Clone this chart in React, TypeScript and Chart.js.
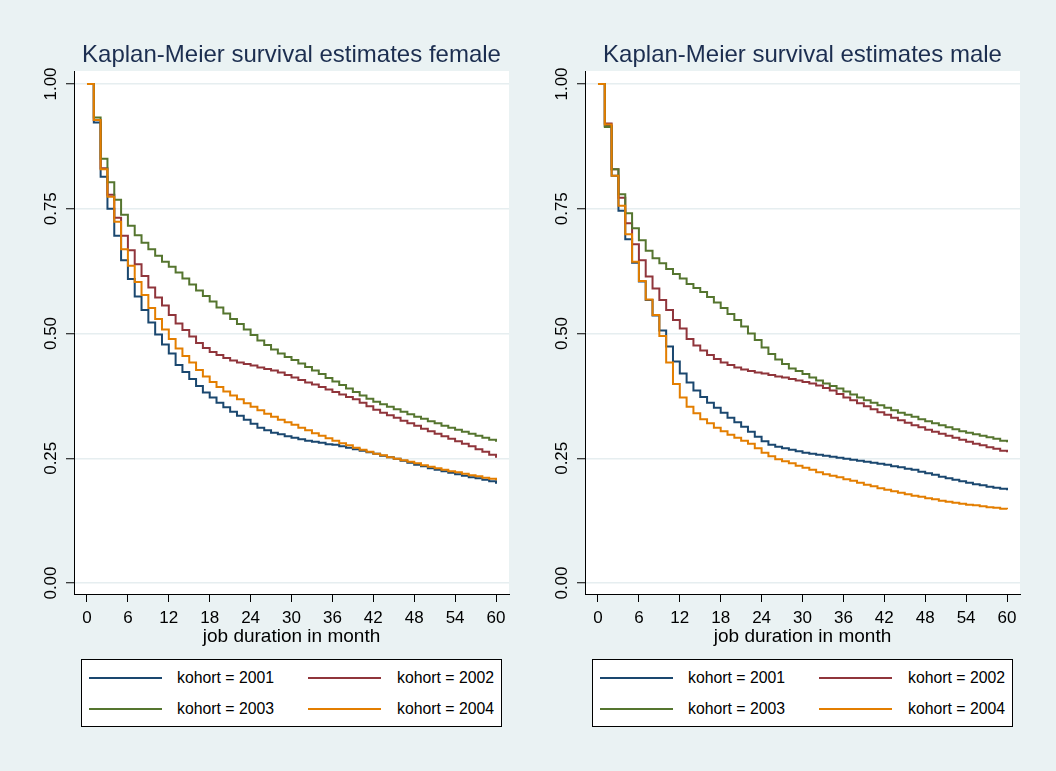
import React, { useEffect, useRef } from "react";
import { Chart, registerables } from "chart.js";

Chart.register(...registerables);

const FONT = "'Liberation Sans', Arial, Helvetica, sans-serif";

// ---------- data ----------
const months = [
  0, 1, 2, 3, 4, 5, 6, 7, 8, 9, 10, 11, 12, 13, 14, 15, 16, 17, 18, 19, 20,
  21, 22, 23, 24, 25, 26, 27, 28, 29, 30, 31, 32, 33, 34, 35, 36, 37, 38, 39, 40,
  41, 42, 43, 44, 45, 46, 47, 48, 49, 50, 51, 52, 53, 54, 55, 56, 57, 58, 59, 60,
];

const cohorts = ["kohort = 2001", "kohort = 2002", "kohort = 2003", "kohort = 2004"];
const cohortColors = ["#1a476f", "#90353b", "#55752f", "#e37e00"];

const xTicks = [0, 6, 12, 18, 24, 30, 36, 42, 48, 54, 60];
const yTicks = [0, 0.25, 0.5, 0.75, 1];
const yTickLabels = ["0.00", "0.25", "0.50", "0.75", "1.00"];
const xTitle = "job duration in month";
const titles = ["Kaplan-Meier survival estimates female", "Kaplan-Meier survival estimates male"];

// female
const female2001 = [
  1.0, 0.923, 0.814, 0.75, 0.696, 0.647, 0.609, 0.574, 0.547, 0.522, 0.498,
  0.478, 0.46, 0.437, 0.423, 0.409, 0.395, 0.382, 0.372, 0.361, 0.352,
  0.343, 0.335, 0.327, 0.319, 0.311, 0.306, 0.301, 0.298, 0.294, 0.291,
  0.288, 0.285, 0.283, 0.281, 0.278, 0.277, 0.274, 0.271, 0.268, 0.265,
  0.262, 0.259, 0.255, 0.252, 0.249, 0.245, 0.241, 0.237, 0.234, 0.23,
  0.227, 0.224, 0.221, 0.218, 0.215, 0.212, 0.21, 0.207, 0.204, 0.199,
];
const female2002 = [
  1.0, 0.928, 0.831, 0.778, 0.732, 0.696, 0.667, 0.639, 0.615, 0.592, 0.572,
  0.556, 0.537, 0.52, 0.507, 0.494, 0.481, 0.471, 0.463, 0.457, 0.451,
  0.446, 0.442, 0.439, 0.436, 0.432, 0.429, 0.426, 0.422, 0.417, 0.412,
  0.407, 0.402, 0.398, 0.393, 0.388, 0.383, 0.378, 0.373, 0.368, 0.361,
  0.354, 0.347, 0.341, 0.336, 0.331, 0.325, 0.32, 0.315, 0.309, 0.304,
  0.299, 0.294, 0.289, 0.284, 0.279, 0.274, 0.268, 0.263, 0.257, 0.251,
];
const female2003 = [
  1.0, 0.933, 0.85, 0.803, 0.768, 0.738, 0.716, 0.697, 0.682, 0.669, 0.656,
  0.644, 0.634, 0.622, 0.61, 0.598, 0.586, 0.575, 0.564, 0.552, 0.54,
  0.529, 0.519, 0.508, 0.497, 0.486, 0.477, 0.468, 0.46, 0.453, 0.447,
  0.44, 0.433, 0.426, 0.419, 0.411, 0.404, 0.397, 0.39, 0.383, 0.376,
  0.369, 0.363, 0.358, 0.353, 0.348, 0.343, 0.338, 0.333, 0.329, 0.324,
  0.32, 0.315, 0.311, 0.307, 0.303, 0.299, 0.295, 0.291, 0.287, 0.283,
];
const female2004 = [
  1.0, 0.928, 0.829, 0.774, 0.724, 0.669, 0.636, 0.603, 0.577, 0.551, 0.529,
  0.508, 0.489, 0.47, 0.455, 0.442, 0.427, 0.414, 0.403, 0.393, 0.384,
  0.376, 0.368, 0.36, 0.353, 0.346, 0.339, 0.333, 0.327, 0.322, 0.317,
  0.311, 0.306, 0.3, 0.295, 0.29, 0.285, 0.28, 0.276, 0.271, 0.267,
  0.263, 0.259, 0.256, 0.252, 0.249, 0.246, 0.243, 0.24, 0.236, 0.233,
  0.23, 0.227, 0.224, 0.222, 0.219, 0.216, 0.214, 0.211, 0.209, 0.206,
];

// male
const male2001 = [
  1.0, 0.916, 0.816, 0.746, 0.689, 0.642, 0.604, 0.567, 0.536, 0.506, 0.474,
  0.444, 0.42, 0.402, 0.386, 0.373, 0.361, 0.351, 0.341, 0.331, 0.322,
  0.313, 0.303, 0.293, 0.284, 0.277, 0.273, 0.27, 0.267, 0.264, 0.261,
  0.259, 0.257, 0.255, 0.253, 0.251, 0.249, 0.247, 0.245, 0.243, 0.241,
  0.239, 0.237, 0.234, 0.232, 0.229, 0.227, 0.223, 0.22, 0.217, 0.213,
  0.21, 0.207, 0.204, 0.201, 0.198, 0.196, 0.193, 0.191, 0.189, 0.186,
];
const male2002 = [
  1.0, 0.921, 0.829, 0.772, 0.721, 0.679, 0.647, 0.614, 0.59, 0.567, 0.547,
  0.527, 0.51, 0.489, 0.476, 0.466, 0.457, 0.449, 0.442, 0.437, 0.432,
  0.428, 0.425, 0.422, 0.42, 0.417, 0.414, 0.412, 0.409, 0.406, 0.403,
  0.4, 0.396, 0.391, 0.386, 0.379, 0.372, 0.366, 0.36, 0.354, 0.348,
  0.342, 0.337, 0.331, 0.326, 0.321, 0.316, 0.312, 0.307, 0.303, 0.299,
  0.295, 0.291, 0.287, 0.283, 0.279, 0.276, 0.272, 0.269, 0.265, 0.262,
];
const male2003 = [
  1.0, 0.914, 0.829, 0.779, 0.741, 0.711, 0.687, 0.666, 0.651, 0.641, 0.629,
  0.619, 0.61, 0.599, 0.591, 0.583, 0.573, 0.562, 0.551, 0.539, 0.527,
  0.514, 0.5, 0.487, 0.472, 0.459, 0.448, 0.439, 0.43, 0.425, 0.419,
  0.412, 0.406, 0.4, 0.395, 0.39, 0.384, 0.378, 0.372, 0.366, 0.361,
  0.356, 0.351, 0.346, 0.341, 0.337, 0.333, 0.328, 0.324, 0.32, 0.316,
  0.312, 0.308, 0.304, 0.301, 0.298, 0.295, 0.292, 0.289, 0.285, 0.282,
];
const male2004 = [
  1.0, 0.919, 0.816, 0.756, 0.699, 0.644, 0.605, 0.568, 0.537, 0.495, 0.442,
  0.399, 0.372, 0.353, 0.34, 0.328, 0.32, 0.311, 0.304, 0.297, 0.291,
  0.285, 0.279, 0.27, 0.261, 0.254, 0.248, 0.244, 0.24, 0.235, 0.231,
  0.227, 0.222, 0.218, 0.215, 0.212, 0.208, 0.205, 0.201, 0.197, 0.194,
  0.19, 0.187, 0.184, 0.181, 0.178, 0.175, 0.173, 0.17, 0.168, 0.165,
  0.163, 0.161, 0.159, 0.157, 0.156, 0.154, 0.152, 0.151, 0.149, 0.148,
];

const femaleSeries = [female2001, female2002, female2003, female2004];
const maleSeries = [male2001, male2002, male2003, male2004];

// ---------- layout constants ----------
const CANVAS_W = 520;
const CANVAS_H = 650;
const X_MIN = -1.907;
const X_MAX = 61.907;
const Y_MIN = -0.022;
const Y_MAX = 1.026;

const whiteArea = {
  id: "whiteArea",
  beforeDraw(chart: any) {
    const { ctx, chartArea } = chart;
    ctx.save();
    ctx.fillStyle = "#ffffff";
    ctx.fillRect(chartArea.left, chartArea.top, chartArea.right - chartArea.left, chartArea.bottom - chartArea.top);
    ctx.restore();
  },
};

function Panel({ title, series, left }: { title: string; series: number[][]; left: number }) {
  const ref = useRef<HTMLCanvasElement | null>(null);

  useEffect(() => {
    if (!ref.current) return;
    const datasets = series.map((vals, i) => ({
      label: cohorts[i],
      data: months.map((m, j) => ({ x: m, y: vals[j] })),
      borderColor: cohortColors[i],
      backgroundColor: cohortColors[i],
      borderWidth: 2,
      pointRadius: 0,
      fill: false,
      stepped: true,
      order: 4 - i,
    }));
    const chart = new Chart(ref.current, {
      type: "line",
      data: { datasets },
      plugins: [whiteArea],
      options: {
        animation: false,
        responsive: false,
        events: [],
        layout: { padding: { left: 0, right: 11, top: 0, bottom: 0 } },
        plugins: {
          legend: { display: false },
          tooltip: { enabled: false },
          title: {
            display: true,
            text: title,
            fullSize: false,
            color: "#1c2e50",
            font: { family: FONT, size: 24, weight: "normal", lineHeight: 1.2 },
            padding: { top: 40.6, bottom: 1.6 },
          },
        },
        scales: {
          x: {
            type: "linear",
            min: X_MIN,
            max: X_MAX,
            afterBuildTicks: (s: any) => {
              s.ticks = xTicks.map((v) => ({ value: v }));
            },
            afterFit: (s: any) => {
              s.height = 56;
            },
            ticks: {
              autoSkip: false,
              maxRotation: 0,
              color: "#000",
              padding: 6.5,
              font: { family: FONT, size: 17 },
              callback: (v: any) => String(v),
            },
            grid: {
              drawOnChartArea: false,
              drawTicks: true,
              tickLength: 8,
              tickColor: "#000",
              tickWidth: 1,
            },
            border: { display: true, color: "#000", width: 1 },
            title: {
              display: true,
              text: xTitle,
              color: "#000",
              font: { family: FONT, size: 19, lineHeight: 1.2 },
              padding: { top: 0, bottom: 2.1 },
            },
          },
          y: {
            type: "linear",
            min: Y_MIN,
            max: Y_MAX,
            afterBuildTicks: (s: any) => {
              s.ticks = yTicks.map((v) => ({ value: v }));
            },
            afterFit: (s: any) => {
              s.width = 74;
            },
            ticks: {
              autoSkip: false,
              minRotation: 90,
              maxRotation: 90,
              crossAlign: "center",
              padding: -1.5,
              color: "#000",
              font: { family: FONT, size: 17 },
              callback: (_v: any, i: number) => yTickLabels[i],
            },
            grid: {
              color: "#e6eef0",
              lineWidth: 1.5,
              drawTicks: true,
              tickLength: 8,
              tickColor: "#000",
              tickWidth: 1,
            },
            border: { display: true, color: "#000", width: 1 },
          },
        },
      } as any,
    });
    return () => chart.destroy();
  }, [title, series]);

  const legendPos = [
    { line: 7, text: 95, top: 18 },
    { line: 226, text: 315, top: 18 },
    { line: 7, text: 95, top: 49 },
    { line: 226, text: 315, top: 49 },
  ];

  return (
    <div style={{ position: "absolute", left, top: 0, width: CANVAS_W, height: 771 }}>
      <canvas ref={ref} width={CANVAS_W} height={CANVAS_H} style={{ display: "block", position: "absolute", left: 0, top: 0 }} />
      <div
        style={{
          position: "absolute",
          left: 81,
          top: 659,
          width: 421,
          height: 68,
          boxSizing: "border-box",
          background: "#ffffff",
          border: "1px solid #000",
        }}
      >
        {cohorts.map((c, i) => (
          <React.Fragment key={c}>
            <div
              style={{
                position: "absolute",
                left: legendPos[i].line,
                top: legendPos[i].top - 1,
                width: 73,
                height: 2,
                background: cohortColors[i],
              }}
            />
            <div
              style={{
                position: "absolute",
                left: legendPos[i].text,
                top: legendPos[i].top - 10,
                height: 20,
                lineHeight: "20px",
                fontFamily: FONT,
                fontSize: 15.8,
                color: "#000",
                whiteSpace: "nowrap",
              }}
            >
              {c}
            </div>
          </React.Fragment>
        ))}
      </div>
    </div>
  );
}

export default function App() {
  return (
    <div
      style={{
        position: "absolute",
        left: 0,
        top: 0,
        width: 1056,
        height: 771,
        background: "#eaf2f3",
        overflow: "hidden",
      }}
    >
      <Panel title={titles[0]} series={femaleSeries} left={0} />
      <Panel title={titles[1]} series={maleSeries} left={511} />
    </div>
  );
}
